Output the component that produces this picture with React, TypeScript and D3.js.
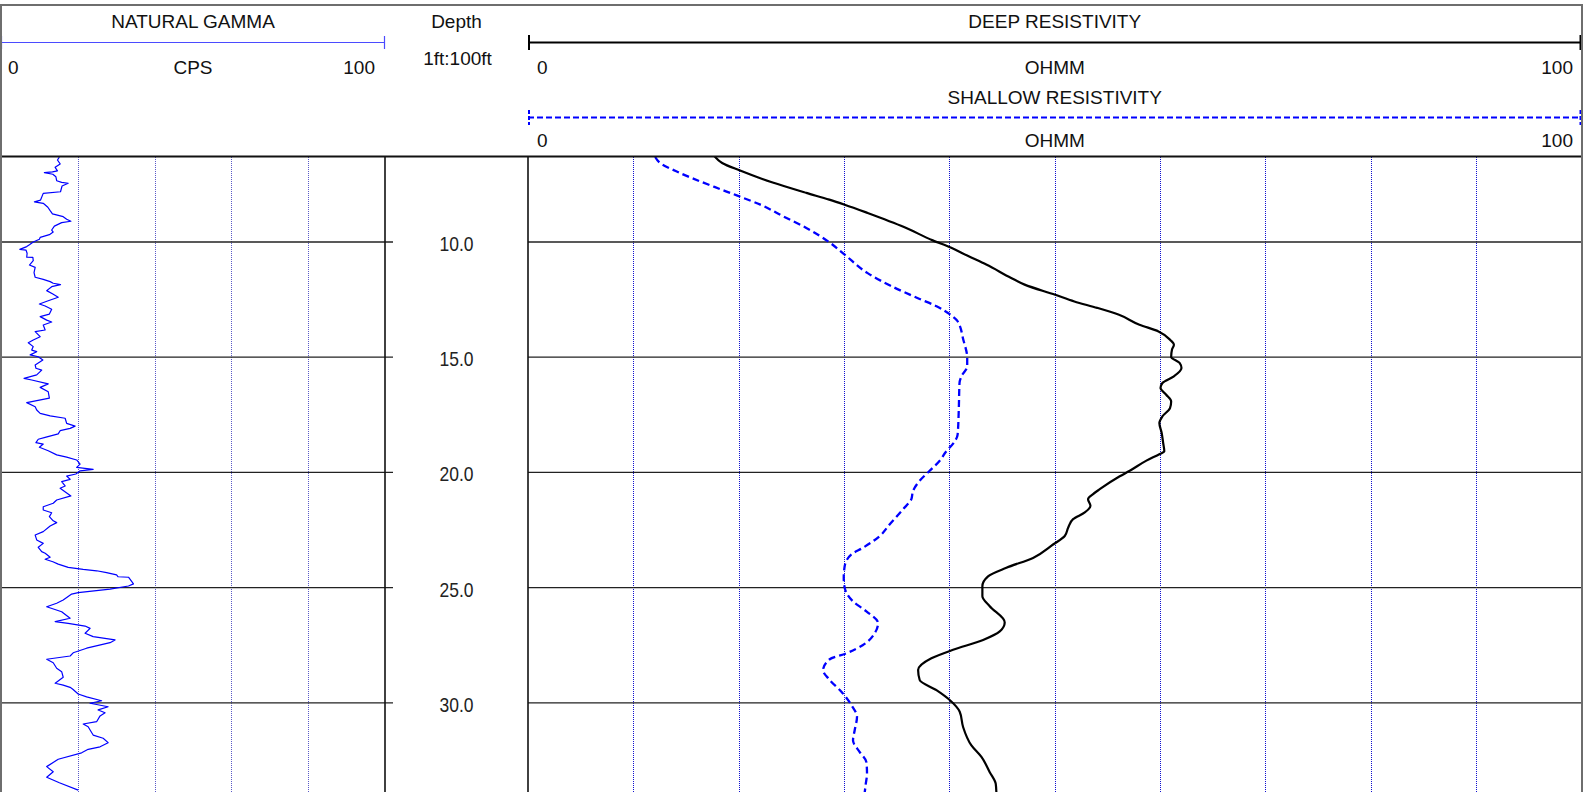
import React from "react";
import * as d3 from "d3";

// ---------- data ----------
const DEPTH_TICKS = [10, 15, 20, 25, 30];
const GAMMA_GRID = [20, 40, 60, 80];
const RES_GRID = [10, 20, 30, 40, 50, 60, 70, 80, 90];

const GAMMA_DEPTH = [
  6.32, 6.44, 6.61, 6.76, 6.91, 6.96, 6.99, 7.06, 7.17, 7.34, 7.41, 7.45, 7.57, 7.82, 7.89,
  8.18, 8.26, 8.32, 8.49, 8.64, 8.78, 8.9, 9.01, 9.1, 9.16, 9.31, 9.48, 9.57, 9.68, 9.8, 9.88,
  10.0, 10.12, 10.2, 10.32, 10.35, 10.49, 10.66, 10.67, 10.81, 11.0, 11.1, 11.33, 11.53, 11.62,
  11.72, 11.79, 11.85, 11.94, 12.11, 12.26, 12.4, 12.55, 12.69, 12.78, 12.92, 13.13, 13.24,
  13.39, 13.47, 13.6, 13.82, 13.89, 14.11, 14.25, 14.37, 14.54, 14.69, 14.76, 14.9, 14.98,
  15.12, 15.34, 15.48, 15.56, 15.77, 15.92, 15.99, 16.16, 16.31, 16.5, 16.78, 16.97, 17.15,
  17.29, 17.44, 17.55, 17.65, 17.87, 17.99, 18.09, 18.19, 18.33, 18.48, 18.56, 18.71, 18.77,
  18.91, 19.06, 19.24, 19.34, 19.46, 19.64, 19.78, 19.87, 19.93, 20.07, 20.16, 20.3, 20.4,
  20.59, 20.69, 21.02, 21.2, 21.34, 21.49, 21.63, 21.75, 21.92, 22.1, 22.18, 22.33, 22.57,
  22.72, 22.93, 23.08, 23.25, 23.44, 23.51, 23.68, 23.77, 23.88, 23.98, 24.12, 24.21, 24.27,
  24.35, 24.45, 24.53, 24.55, 24.84, 24.93, 25.07, 25.22, 25.28, 25.54, 25.68, 25.83, 26.05,
  26.33, 26.48, 26.55, 26.67, 26.77, 26.98, 27.13, 27.27, 27.39, 27.63, 27.83, 27.97, 28.11,
  28.26, 28.5, 28.65, 28.89, 29.15, 29.23, 29.33, 29.41, 29.62, 29.74, 29.91, 30.02, 30.17,
  30.31, 30.43, 30.57, 30.82, 30.92, 31.04, 31.18, 31.4, 31.54, 31.73, 31.91, 32.02, 32.17,
  32.45, 32.77, 32.99, 33.23, 33.47, 33.79,
];
const GAMMA_CPS = [
  15.2, 14.7, 15.4, 14.1, 14.7, 13.4, 11.3, 13.5, 14.3, 14.5, 15.8, 17.5, 15.9, 15.5, 11.0,
  10.3, 8.7, 11.0, 12.2, 12.8, 13.4, 16.2, 17.1, 18.2, 15.8, 13.9, 13.2, 13.6, 12.6, 10.2, 10.0,
  8.4, 7.4, 6.7, 4.9, 6.5, 6.8, 6.7, 8.3, 8.4, 7.4, 8.9, 8.6, 8.9, 11.0,
  12.8, 13.6, 15.5, 13.2, 11.9, 13.5, 14.9, 12.3, 10.0, 11.5, 13.2, 12.6, 10.2,
  11.9, 13.2, 11.0, 11.5, 8.9, 10.2, 8.4, 7.1, 8.4, 8.0, 9.3, 7.6, 9.7,
  10.9, 8.9, 9.1, 10.6, 9.3, 6.0, 8.0, 12.3, 10.2, 12.3, 12.6, 6.7, 8.9,
  9.3, 10.2, 12.8, 16.7, 17.1, 19.3, 18.0, 15.4, 14.9, 11.5, 9.7, 9.1, 11.0,
  10.0, 12.3, 14.5, 17.1, 19.7, 20.6, 19.7, 24.0, 20.6, 19.5, 17.1, 18.0, 15.8,
  16.7, 15.4, 18.2, 14.5, 13.6, 11.0, 11.0, 13.2, 12.6, 13.6, 14.5, 12.8, 11.0,
  8.9, 9.3, 11.0, 9.7, 10.6, 11.5, 12.8, 11.5, 13.5, 14.9, 17.5, 21.4, 24.9,
  27.5, 30.1, 30.5, 33.2, 34.5, 33.2, 28.4, 20.1, 18.4, 16.2, 14.5, 11.9, 15.8,
  18.0, 14.1, 17.5, 21.9, 23.2, 21.9, 24.0, 29.7, 28.4, 22.3, 18.8, 18.0, 11.9,
  13.6, 14.5, 15.8, 16.2, 14.1, 16.2, 18.0, 18.7, 20.1, 22.3, 26.2, 23.2, 27.9,
  25.3, 27.1, 25.8, 24.9, 21.4, 22.7, 23.2, 24.0, 26.6, 27.9, 25.8, 22.7, 21.0,
  14.9, 11.9, 13.6, 11.9, 15.2, 20.1,
];

const DEEP_DEPTH = [
  6.28, 6.57, 6.89, 7.41, 7.87, 8.16, 8.38, 8.74, 9.35, 9.93, 10.26, 10.59, 10.98, 11.56,
  11.85, 12.29, 12.58, 12.86, 13.15, 13.59, 13.88, 14.24, 14.46, 14.67, 14.99, 15.25, 15.47,
  15.83, 16.12, 16.34, 16.63, 16.92, 17.21, 17.57, 17.86, 18.29, 18.72, 19.09, 19.2, 19.49,
  19.93, 20.17, 20.73, 20.94, 21.16, 21.45, 21.74, 22.03, 22.4, 22.76, 23.13, 23.71, 24.14,
  24.51, 24.94, 25.38, 25.81, 26.51, 26.9, 27.27, 27.7, 28.07, 28.58, 29.01, 29.45, 29.88,
  30.39, 31.05, 31.85, 32.35, 33.01, 33.52, 33.9,
];
const DEEP_OHMM = [
  17.7, 18.43, 20.07, 23.15, 26.42, 28.6, 30.06, 32.24, 35.69, 38.42, 40.23, 41.69, 43.5, 45.86,
  47.14, 50.04, 51.86, 54.04, 56.04, 58.04, 59.85, 60.94, 61.31, 61.13, 61.05, 61.85, 62.03,
  61.31, 60.22, 60.04, 60.58, 61.05, 60.94, 60.22, 59.93, 60.15, 60.29, 60.4, 59.97, 58.7,
  57.12, 56.17, 54.27, 53.64, 53.16, 53.39, 52.85, 51.74, 51.27, 50.95, 49.84, 47.94, 45.41,
  43.67, 43.13, 43.13, 43.83, 45.25, 44.78, 43.2, 40.35, 38.29, 37.03, 37.18, 38.77, 40.03,
  40.98, 41.3, 42.09, 43.04, 43.83, 44.4, 44.46,
];

const SHALLOW_DEPTH = [
  6.31, 6.6, 6.93, 7.22, 7.61, 7.99, 8.38, 8.89, 9.39, 10.01, 10.55, 11.35, 11.9, 12.43, 12.79,
  13.2, 13.44, 14.24, 15.03, 15.4, 15.83, 16.12, 17.28, 18.36, 18.72, 19.09, 19.49, 19.93,
  20.36, 20.8, 21.16, 21.6, 22.25, 22.76, 23.27, 23.56, 24.07, 24.58, 25.01, 25.6, 26.03,
  26.54, 26.98, 27.49, 27.85, 28.11, 28.58, 29.01, 29.52, 30.1, 30.61, 31.19, 31.63, 32.14,
  32.57, 33.08, 33.52, 33.9,
];
const SHALLOW_OHMM = [
  12.07, 12.62, 14.07, 15.52, 17.7, 19.88, 22.06, 24.24, 26.42, 28.6, 30.06, 32.24, 34.42, 36.96,
  38.78, 40.23, 40.78, 41.32, 41.69, 41.69, 41.14, 40.96, 40.89, 40.78, 40.41, 39.69, 39.08,
  38.13, 37.18, 36.55, 36.39, 35.6, 34.34, 33.39, 31.8, 30.7, 30.06, 29.97, 30.06, 30.85, 32.12,
  33.23, 32.91, 31.8, 30.22, 28.64, 28.01, 28.64, 29.75, 30.7, 31.23, 31.01, 30.85, 31.49,
  32.12, 32.18, 32.06, 31.96,
];

const FONT = "'Liberation Sans', Arial, Helvetica, sans-serif";
const NARROW = "'Liberation Sans Narrow', 'Arial Narrow', 'Liberation Sans', Arial, sans-serif";

export default function App() {
  const W = 1583;
  const H = 792;
  const top = 156.5;
  const gx0 = 1, gx1 = 385;
  const rx0 = 528, rx1 = 1581.5;

  const y = d3.scaleLinear().domain([10, 30]).range([242, 702.8]);
  const gx = d3.scaleLinear().domain([0, 100]).range([gx0, gx1]);
  const rx = d3.scaleLinear().domain([0, 100]).range([rx0, rx1]);
  const crisp = (v: number) => Math.round(v) + 0.5;

  const gammaPath = d3
    .line<number>()
    .x((_, i) => gx(GAMMA_CPS[i]))
    .y((d) => y(d))(GAMMA_DEPTH) as string;
  const deepPath = d3
    .line<number>()
    .curve(d3.curveMonotoneY)
    .x((_, i) => rx(DEEP_OHMM[i]))
    .y((d) => y(d))(DEEP_DEPTH) as string;
  const shallowPath = d3
    .line<number>()
    .curve(d3.curveMonotoneY)
    .x((_, i) => rx(SHALLOW_OHMM[i]))
    .y((d) => y(d))(SHALLOW_DEPTH) as string;

  const txt = { fontFamily: FONT, fontSize: 19, fill: "#111" } as const;

  return (
    <svg
      width={W}
      height={H}
      style={{ position: "absolute", left: 0, top: 0, background: "#fff" }}
    >
      <defs>
        <clipPath id="gclip">
          <rect x={gx0} y={top} width={gx1 - gx0} height={H - top} />
        </clipPath>
        <clipPath id="rclip">
          <rect x={rx0} y={top} width={rx1 - rx0} height={H - top} />
        </clipPath>
      </defs>
      <rect x={0} y={0} width={W} height={H} fill="#fff" />

      {/* ---------- header ---------- */}
      <text {...txt} x={(gx0 + gx1) / 2} y={28} textAnchor="middle">NATURAL GAMMA</text>
      <line x1={gx0} x2={gx1} y1={42.5} y2={42.5} stroke="#4b4bff" strokeWidth={1.2} />
      <line x1={gx0 + 0.5} x2={gx0 + 0.5} y1={36} y2={49} stroke="#4b4bff" strokeWidth={1.2} />
      <line x1={gx1 - 0.5} x2={gx1 - 0.5} y1={36} y2={49} stroke="#4b4bff" strokeWidth={1.2} />
      <text {...txt} x={8} y={73.5}>0</text>
      <text {...txt} x={(gx0 + gx1) / 2} y={73.5} textAnchor="middle">CPS</text>
      <text {...txt} x={375} y={73.5} textAnchor="end">100</text>

      <text {...txt} x={(gx1 + rx0) / 2} y={28} textAnchor="middle">Depth</text>
      <text {...txt} x={(gx1 + rx0) / 2 + 1} y={65} textAnchor="middle">1ft:100ft</text>

      <text {...txt} x={(rx0 + rx1) / 2} y={28} textAnchor="middle">DEEP RESISTIVITY</text>
      <line x1={rx0} x2={rx1} y1={42.5} y2={42.5} stroke="#000" strokeWidth={2.2} />
      <line x1={rx0 + 1} x2={rx0 + 1} y1={35} y2={50} stroke="#000" strokeWidth={2} />
      <line x1={rx1 - 1} x2={rx1 - 1} y1={35} y2={50} stroke="#000" strokeWidth={2} />
      <text {...txt} x={537} y={73.5}>0</text>
      <text {...txt} x={(rx0 + rx1) / 2} y={73.5} textAnchor="middle">OHMM</text>
      <text {...txt} x={1573} y={73.5} textAnchor="end">100</text>

      <text {...txt} x={(rx0 + rx1) / 2} y={103.5} textAnchor="middle">SHALLOW RESISTIVITY</text>
      <line x1={rx0} x2={rx1} y1={117.5} y2={117.5} stroke="#0000ff" strokeWidth={2} strokeDasharray="6,3" />
      <line x1={rx0 + 1} x2={rx0 + 1} y1={110} y2={125} stroke="#0000ff" strokeWidth={2} strokeDasharray="4,2" />
      <line x1={rx1 - 1} x2={rx1 - 1} y1={110} y2={125} stroke="#0000ff" strokeWidth={2} strokeDasharray="4,2" />
      <text {...txt} x={537} y={147}>0</text>
      <text {...txt} x={(rx0 + rx1) / 2} y={147} textAnchor="middle">OHMM</text>
      <text {...txt} x={1573} y={147} textAnchor="end">100</text>

      {/* ---------- grids ---------- */}
      {GAMMA_GRID.map((v) => (
        <line key={"gg" + v} x1={crisp(gx(v))} x2={crisp(gx(v))} y1={top} y2={H}
          stroke="#5a5ac8" strokeWidth={1} strokeDasharray="1,1" shapeRendering="crispEdges" />
      ))}
      {RES_GRID.map((v) => (
        <line key={"rg" + v} x1={crisp(rx(v))} x2={crisp(rx(v))} y1={top} y2={H}
          stroke="#1010d0" strokeWidth={1} strokeDasharray="1,1" shapeRendering="crispEdges" />
      ))}
      {DEPTH_TICKS.map((d) => (
        <g key={"d" + d}>
          <line x1={gx0} x2={gx1 + 8} y1={y(d)} y2={y(d)} stroke="#222" strokeWidth={1.3} />
          <line x1={rx0} x2={rx1} y1={y(d)} y2={y(d)} stroke="#222" strokeWidth={1.3} />
          <text
            x={(gx1 + rx0) / 2}
            y={y(d) + 9}
            textAnchor="middle"
            fontFamily={NARROW}
            fontSize={21}
            fill="#222"
            textLength={34}
            lengthAdjust="spacingAndGlyphs"
          >
            {d.toFixed(1)}
          </text>
        </g>
      ))}

      {/* ---------- curves ---------- */}
      <g clipPath="url(#gclip)">
        <path d={gammaPath} fill="none" stroke="#0000ff" strokeWidth={1.2} strokeLinejoin="round" />
      </g>
      <g clipPath="url(#rclip)">
        <path d={shallowPath} fill="none" stroke="#0000ff" strokeWidth={2.3} strokeDasharray="7,4" />
        <path d={deepPath} fill="none" stroke="#000" strokeWidth={2.2} />
      </g>

      {/* ---------- frame ---------- */}
      <line x1={gx1} x2={gx1} y1={top} y2={H} stroke="#111" strokeWidth={1.6} />
      <line x1={rx0} x2={rx0} y1={top} y2={H} stroke="#111" strokeWidth={1.6} />
      <line x1={0} x2={W} y1={top} y2={top} stroke="#111" strokeWidth={2} />
      <rect x={1} y={5} width={W - 2} height={H + 10} fill="none" stroke="#6e6e6e" strokeWidth={2} />
    </svg>
  );
}
